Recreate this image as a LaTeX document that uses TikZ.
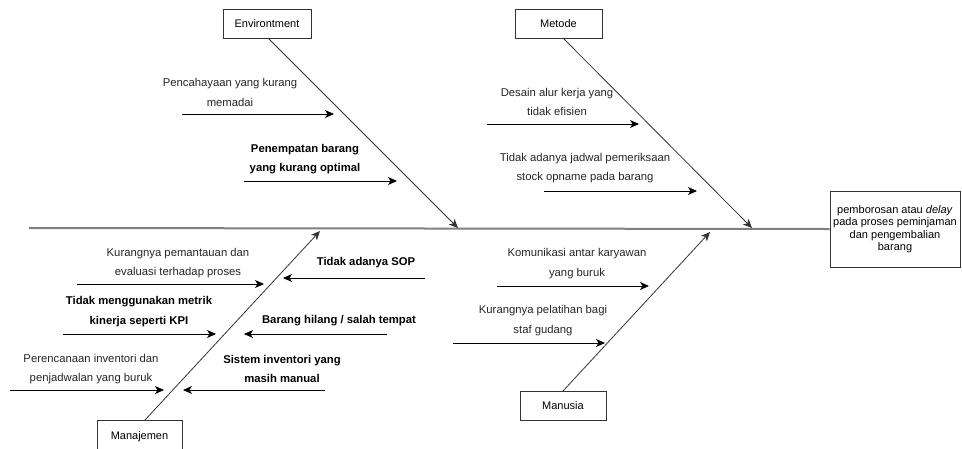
\documentclass[tikz,border=0pt]{standalone}
\usepackage{fontspec}
\setmainfont{Liberation Sans}
\usetikzlibrary{arrows.meta}
\begin{document}
\begin{tikzpicture}[x=1pt,y=-1pt,
  box/.style={draw=black!80,fill=white,line width=0.8pt,inner sep=0pt,font=\fontsize{11}{13}\selectfont},
  lbl/.style={align=center,inner sep=0pt,text=black!85,font=\fontsize{11.3}{19.5}\selectfont},
  blbl/.style={align=center,inner sep=0pt,text=black,font=\fontsize{11.3}{19.5}\selectfont\bfseries},
  causearr/.style={draw=black,line width=0.9pt,-{Stealth[length=9pt,width=8pt,inset=2.5pt]}},
  bonearr/.style={draw=black!80,line width=0.8pt,-{Stealth[length=9pt,width=8pt,inset=2.5pt]}},
  spine/.style={draw=black!50,line width=2pt}]
\useasboundingbox (0,0) rectangle (962,448);
\fill[white] (0,0) rectangle (962,448);

% effect box and spine
\node[box,minimum width=130pt,minimum height=76pt,align=center,font=\fontsize{11}{12.3}\selectfont] (eff) at (895,229)
  {pemborosan atau \textit{delay}\\pada proses peminjaman\\dan pengembalian\\barang};
\coordinate (s0) at (29,228);
\draw[spine] (s0) -- (eff.west);

% category boxes
\node[box,minimum width=88pt,minimum height=29pt] (env) at (267,23.5) {Environtment};
\node[box,minimum width=87pt,minimum height=29pt] (met) at (558.5,23.5) {Metode};
\node[box,minimum width=85pt,minimum height=34pt,anchor=north] (man) at (139.5,420) {\raisebox{4pt}{Manajemen}};
\node[box,minimum width=86pt,minimum height=29pt] (mns) at (563,405.5) {Manusia};

% bones
\coordinate (envS) at (268,38);
\coordinate (envE) at (458,228);
\coordinate (metS) at (563,38);
\coordinate (metE) at (752,228);
\coordinate (manS) at (145,420);
\coordinate (manE) at (320,231);
\coordinate (mnsS) at (563,391);
\coordinate (mnsE) at (710,232);
\draw[bonearr] (envS) -- (envE);
\draw[bonearr] (metS) -- (metE);
\draw[bonearr] (manS) -- (manE);
\draw[bonearr] (mnsS) -- (mnsE);

% Environment causes
\node[lbl] (t1) at (230,92.5) {Pencahayaan yang kurang\\memadai};
\coordinate (a1s) at (182,114); \coordinate (a1e) at (334,114);
\draw[causearr] (a1s) -- (a1e);
\node[blbl] (t2) at (305,159) {Penempatan barang\\yang kurang optimal};
\coordinate (a2s) at (244,181); \coordinate (a2e) at (397,181);
\draw[causearr] (a2s) -- (a2e);

% Metode causes
\node[lbl] (t3) at (557,102) {Desain alur kerja yang\\tidak efisien};
\coordinate (a3s) at (487,124); \coordinate (a3e) at (639,124);
\draw[causearr] (a3s) -- (a3e);
\node[lbl] (t4) at (585,168) {Tidak adanya jadwal pemeriksaan\\stock opname pada barang};
\coordinate (a4s) at (544,191); \coordinate (a4e) at (697,191);
\draw[causearr] (a4s) -- (a4e);

% Manajemen causes (left)
\node[lbl] (t5) at (178,263) {Kurangnya pemantauan dan\\evaluasi terhadap proses};
\coordinate (a5s) at (77,284); \coordinate (a5e) at (264,284);
\draw[causearr] (a5s) -- (a5e);
\node[blbl] (t6) at (139,311.5) {Tidak menggunakan metrik\\kinerja seperti KPI};
\coordinate (a6s) at (63,334); \coordinate (a6e) at (216,334);
\draw[causearr] (a6s) -- (a6e);
\node[lbl] (t7) at (91,369) {Perencanaan inventori dan\\penjadwalan yang buruk};
\coordinate (a7s) at (10,390); \coordinate (a7e) at (164,390);
\draw[causearr] (a7s) -- (a7e);

% Manajemen causes (right)
\node[blbl] (t8) at (366,263) {Tidak adanya SOP};
\coordinate (a8s) at (425,278); \coordinate (a8e) at (283,278);
\draw[causearr] (a8s) -- (a8e);
\node[blbl] (t9) at (339,321) {Barang hilang / salah tempat};
\coordinate (a9s) at (387,334); \coordinate (a9e) at (244,334);
\draw[causearr] (a9s) -- (a9e);
\node[blbl] (t10) at (282,369) {Sistem inventori yang\\masih manual};
\coordinate (a10s) at (325,390); \coordinate (a10e) at (183,390);
\draw[causearr] (a10s) -- (a10e);

% Manusia causes
\node[lbl] (t11) at (577,263.5) {Komunikasi antar karyawan\\yang buruk};
\coordinate (a11s) at (497,286); \coordinate (a11e) at (649,286);
\draw[causearr] (a11s) -- (a11e);
\node[lbl] (t12) at (543,320.5) {Kurangnya pelatihan bagi\\staf gudang};
\coordinate (a12s) at (453,343); \coordinate (a12e) at (605,343);
\draw[causearr] (a12s) -- (a12e);
\end{tikzpicture}
\end{document}
